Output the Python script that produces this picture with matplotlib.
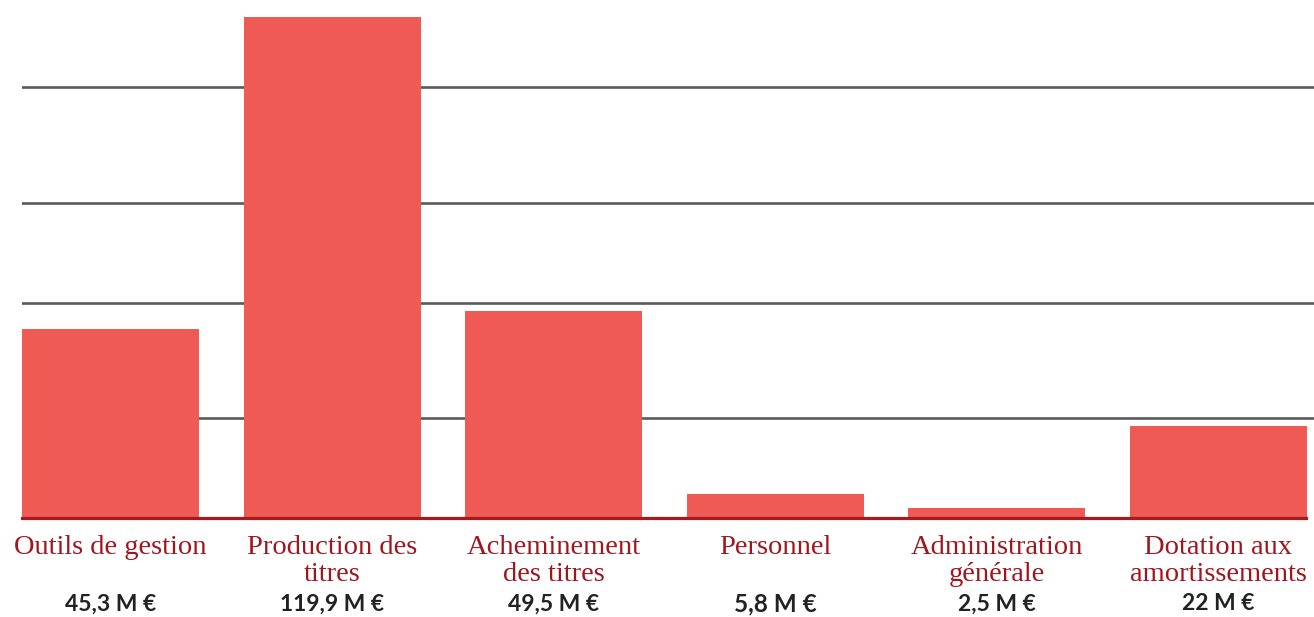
import matplotlib
matplotlib.use("Agg")
import matplotlib.pyplot as plt
from matplotlib.transforms import blended_transform_factory

# budget breakdown, millions of euros
categories = ["Outils de gestion", "Production des\ntitres", "Acheminement\ndes titres",
              "Personnel", "Administration\ngénérale", "Dotation aux\namortissements"]
values = [45.3, 119.9, 49.5, 5.8, 2.5, 22]
value_labels = ["45,3 M €", "119,9 M €", "49,5 M €", "5,8 M €", "2,5 M €", "22 M €"]
grid_levels = [23.9, 51.5, 75.4, 103.2]

BAR = "#F05A55"
LABEL = "#A0161E"
W, H = 1314, 617

fig = plt.figure(figsize=(W / 100.0, H / 100.0), dpi=100)
ax = fig.add_axes([22.0 / W, (H - 518.0) / H, 1 - 22.0 / W, 518.0 / H])

x = list(range(len(values)))
width = 0.799
ax.bar(x, values, width=width, color=BAR, zorder=2)
for g in grid_levels:
    ax.axhline(g, color="#5a5a5a", lw=1.9, zorder=1)
ax.axhline(0, xmax=(1306.0 - 22) / (W - 22), color="#A31B1F", lw=2.3, zorder=3, clip_on=False)

ax.set_xlim(-width / 2, 5 + width / 2 + 7 / 221.6)
ax.set_ylim(0, 119.9 * 518.0 / 501.0)
ax.axis("off")

# text under the bars: x in data, y in figure pixels from top
tr = blended_transform_factory(ax.transData, fig.transFigure)
for i in x:
    ax.text(i, 1 - 535.0 / H, categories[i], transform=tr, ha="center", va="top",
            fontsize=20.5, family="Liberation Serif", color=LABEL, linespacing=1.1)
    ax.text(i, 1 - 604.0 / H, value_labels[i], transform=tr, ha="center", va="center",
            fontsize=17.5 if i == 3 else 16.5, family="Lato", fontweight="bold", color="#222222")

fig.savefig("out.png", dpi=100)
